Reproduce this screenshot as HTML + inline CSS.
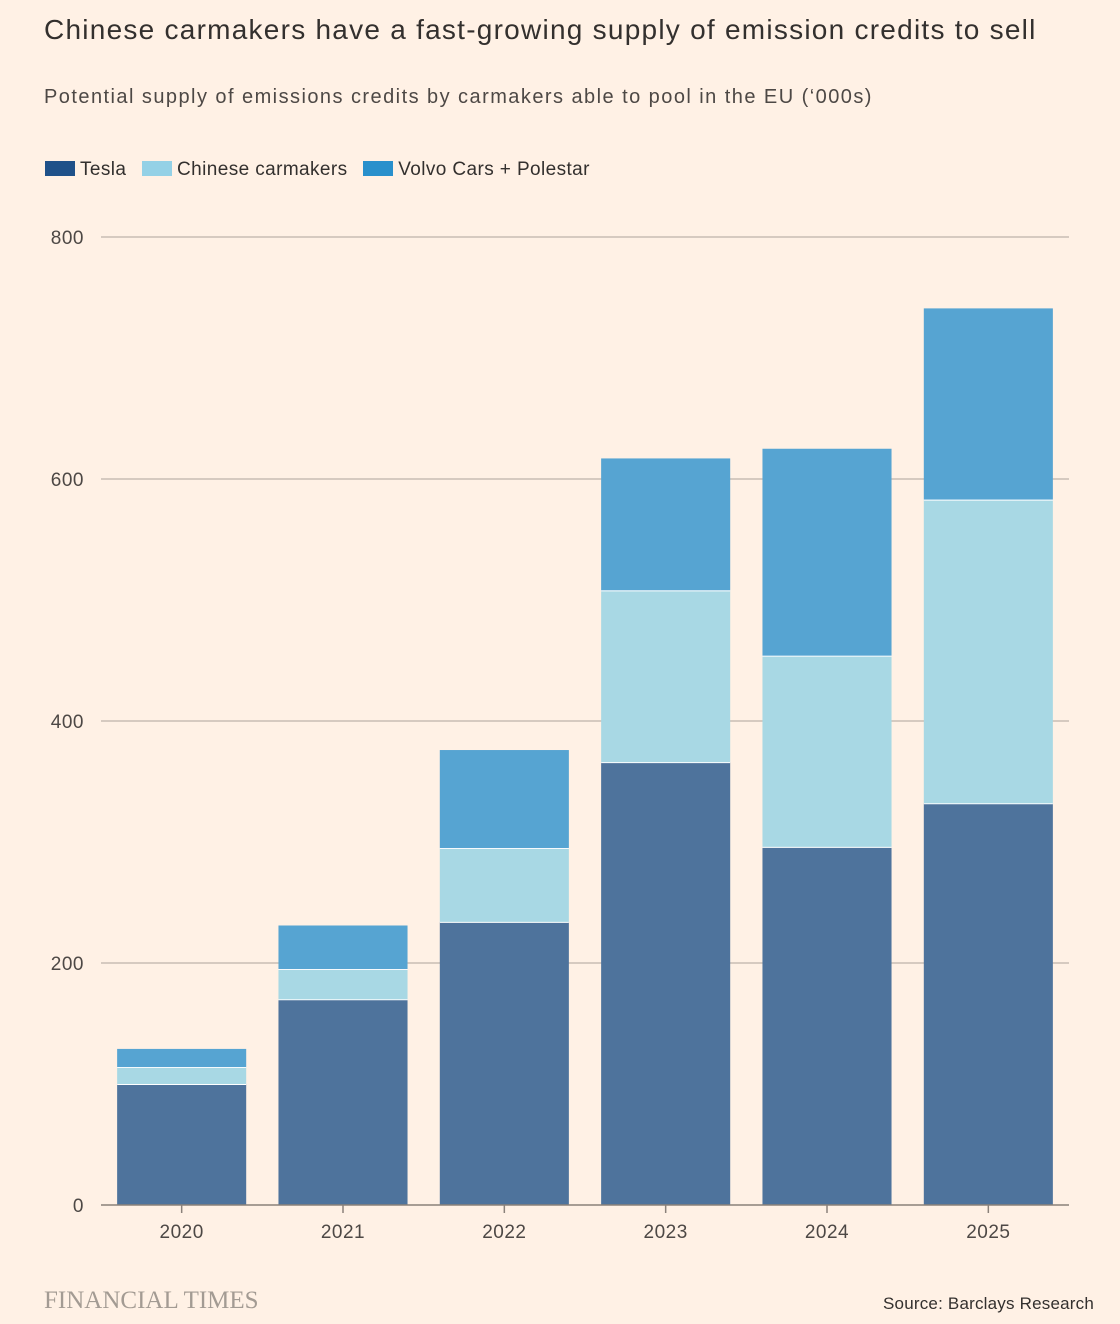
<!DOCTYPE html>
<html><head><meta charset="utf-8"><style>
body{margin:0;background:#fff1e5;font-family:"Liberation Sans",sans-serif;color:#33302e}
#wrap{position:relative;width:1120px;height:1324px;overflow:hidden;background:#fff1e5}
.t{position:absolute;white-space:nowrap}
</style></head><body>
<div id="wrap">
<div class="t" style="left:44px;top:14px;font-size:28px;letter-spacing:1.25px;color:#33302e">Chinese carmakers have a fast-growing supply of emission credits to sell</div>
<div class="t" style="left:44px;top:86px;font-size:20px;letter-spacing:1.45px;color:#4d4845">Potential supply of emissions credits by carmakers able to pool in the EU (‘000s)</div>
<div class="t" style="left:45px;top:159px;font-size:19px;letter-spacing:0.4px;color:#33302e">
<span><span style="display:inline-block;width:30px;height:15px;background:#1f5189;vertical-align:-1px;margin-right:5px"></span>Tesla</span>
<span style="margin-left:10px"><span style="display:inline-block;width:30px;height:15px;background:#94d1e6;vertical-align:-1px;margin-right:5px"></span>Chinese carmakers</span>
<span style="margin-left:10px"><span style="display:inline-block;width:30px;height:15px;background:#2990cc;vertical-align:-1px;margin-right:5px"></span>Volvo Cars + Polestar</span>
</div>
<svg id="chart" width="1120" height="1324" style="position:absolute;left:0;top:0"></svg>
<div class="t" style="left:44px;top:1287px;font-family:'Liberation Serif',serif;font-size:25px;color:#a39b93">FINANCIAL TIMES</div>
<div class="t" style="right:26px;top:1294px;font-size:17px;letter-spacing:0.2px;color:#33302e">Source: Barclays Research</div>
</div>
<script>
const categories=["2020","2021","2022","2023","2024","2025"];
const tesla=[100,170,234,366,296,332];
const chinese=[14,25,61,142,158,251];
const volvo=[15,36,81,109,171,158];
const yTicks=[0,200,400,600,800];
const svg=document.getElementById('chart');
const NS='http://www.w3.org/2000/svg';
const L=101,R=1069,Y0=1205,Y800=237;
const y=v=>Y0-(v/800)*(Y0-Y800);
const band=(R-L)/categories.length;
const x=i=>L+i*band+band*0.1;
const bw=band*0.8;
function mk(t,a){const e=document.createElementNS(NS,t);for(const k in a)e.setAttribute(k,a[k]);svg.appendChild(e);return e;}
yTicks.forEach(v=>{
 if(v>0){const g=mk('line',{x1:L,x2:R,y1:y(v),y2:y(v),stroke:'#c9bdb3','stroke-width':1.5});
 
 }
 const t=mk('text',{x:84,y:y(v)+7,'text-anchor':'end','font-size':19,'letter-spacing':0.5,fill:'#4d4845','font-family':'Liberation Sans, sans-serif'});
 t.textContent=v;
 
 
});
const series=[[tesla,'#4e739c','tesla'],[chinese,'#a8d8e4','chinese'],[volvo,'#56a4d2','volvo']];
categories.forEach((c,i)=>{
 let base=0;
 series.forEach(([arr,col,nm])=>{
  const v=arr[i];
  const r=mk('rect',{x:x(i),y:y(base+v),width:bw,height:y(base)-y(base+v),fill:col});
  
  
  base+=v;
  if(nm!=='volvo'){const s=mk('line',{x1:x(i),x2:x(i)+bw,y1:y(base),y2:y(base),stroke:'#ffffff','stroke-width':2});
  
  }
 });
 const tk=mk('line',{x1:x(i)+bw/2,x2:x(i)+bw/2,y1:Y0,y2:Y0+8,stroke:'#8a817a','stroke-width':1.5});
 
 
 const t=mk('text',{x:x(i)+bw/2,y:Y0+33,'text-anchor':'middle','font-size':19,'letter-spacing':0.5,fill:'#4d4845','font-family':'Liberation Sans, sans-serif'});
 t.textContent=c;
 
 
});
const ax=mk('line',{x1:L,x2:R,y1:Y0,y2:Y0,stroke:'#8a817a','stroke-width':1.5});


</script>
</body></html>
